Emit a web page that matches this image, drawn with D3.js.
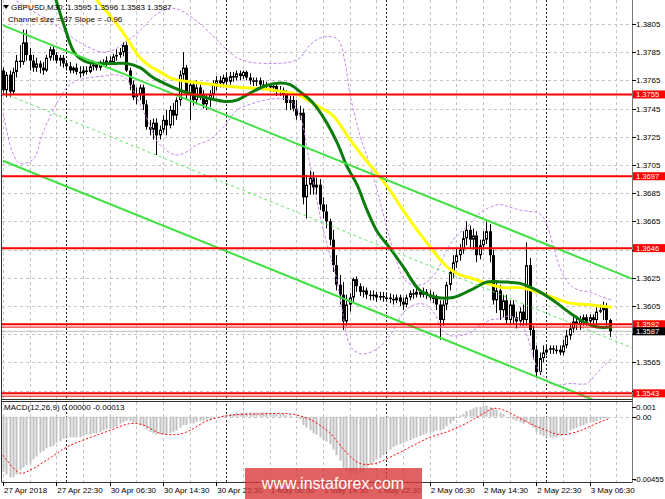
<!DOCTYPE html>
<html><head><meta charset="utf-8">
<script src="https://cdn.jsdelivr.net/npm/d3@7"></script>
<style>body{margin:0;background:#fff}svg{display:block}text{font-family:"Liberation Sans",Arial,sans-serif}</style>
</head><body><svg id="c" width="665" height="499"></svg>
<script>
// ---------------- DATA ----------------
const openP=[1.3772,1.3758,1.3769,1.3757,1.3771,1.3779,1.3778,1.3792,1.3783,1.3779,
1.3774,1.3777,1.3774,1.3772,1.3781,1.3787,1.3783,1.3779,1.3781,1.3777,
1.3775,1.3772,1.3774,1.3771,1.3770,1.3772,1.3771,1.3775,1.3776,1.3774,
1.3777,1.3777,1.3779,1.3778,1.3782,1.3783,1.3785,1.3790,1.3772,1.3762,
1.3753,1.3755,1.3760,1.3748,1.3732,1.3730,1.3735,1.3726,1.3730,1.3737,
1.3733,1.3744,1.3740,1.3751,1.3769,1.3774,1.3755,1.3762,1.3751,1.3760,
1.3755,1.3748,1.3751,1.3755,1.3762,1.3765,1.3763,1.3767,1.3764,1.3768,
1.3767,1.3770,1.3768,1.3771,1.3767,1.3765,1.3764,1.3765,1.3762,1.3761,
1.3762,1.3760,1.3761,1.3757,1.3758,1.3755,1.3749,1.3751,1.3745,1.3740,
1.3742,1.3682,1.3691,1.3696,1.3689,1.3691,1.3677,1.3672,1.3665,1.3652,
1.3634,1.3620,1.3613,1.3594,1.3606,1.3611,1.3624,1.3619,1.3615,1.3616,
1.3613,1.3612,1.3613,1.3611,1.3612,1.3611,1.3611,1.3610,1.3609,1.3611,
1.3608,1.3606,1.3611,1.3614,1.3613,1.3615,1.3613,1.3615,1.3613,1.3611,
1.3611,1.3606,1.3595,1.3606,1.3620,1.3629,1.3636,1.3641,1.3645,1.3653,
1.3659,1.3652,1.3655,1.3641,1.3648,1.3652,1.3658,1.3641,1.3609,1.3616,
1.3602,1.3609,1.3595,1.3606,1.3597,1.3594,1.3601,1.3595,1.3634,1.3588,
1.3574,1.3558,1.3568,1.3572,1.3574,1.3575,1.3574,1.3574,1.3572,1.3577,
1.3584,1.3589,1.3594,1.3592,1.3595,1.3597,1.3594,1.3597,1.3595,1.3601,
1.3602,1.3604,1.3595];
const closeP=[1.3758,1.3769,1.3757,1.3771,1.3779,1.3778,1.3792,1.3783,1.3779,1.3774,
1.3777,1.3774,1.3772,1.3781,1.3787,1.3783,1.3779,1.3781,1.3777,1.3775,
1.3772,1.3774,1.3771,1.3770,1.3772,1.3771,1.3775,1.3776,1.3774,1.3777,
1.3777,1.3779,1.3778,1.3782,1.3783,1.3785,1.3790,1.3772,1.3762,1.3753,
1.3755,1.3760,1.3748,1.3732,1.3730,1.3735,1.3726,1.3730,1.3737,1.3733,
1.3744,1.3740,1.3751,1.3769,1.3774,1.3755,1.3762,1.3751,1.3760,1.3755,
1.3748,1.3751,1.3755,1.3762,1.3765,1.3763,1.3767,1.3764,1.3768,1.3767,
1.3770,1.3768,1.3771,1.3767,1.3765,1.3764,1.3765,1.3762,1.3761,1.3762,
1.3760,1.3761,1.3757,1.3758,1.3755,1.3749,1.3751,1.3745,1.3740,1.3742,
1.3682,1.3691,1.3696,1.3689,1.3691,1.3677,1.3672,1.3665,1.3652,1.3634,
1.3620,1.3613,1.3594,1.3606,1.3611,1.3624,1.3619,1.3615,1.3616,1.3613,
1.3612,1.3613,1.3611,1.3612,1.3611,1.3611,1.3610,1.3609,1.3611,1.3608,
1.3606,1.3611,1.3614,1.3613,1.3615,1.3613,1.3615,1.3613,1.3611,1.3611,
1.3606,1.3595,1.3606,1.3620,1.3629,1.3636,1.3641,1.3645,1.3653,1.3659,
1.3652,1.3655,1.3641,1.3648,1.3652,1.3658,1.3641,1.3609,1.3616,1.3602,
1.3609,1.3595,1.3606,1.3597,1.3594,1.3601,1.3595,1.3634,1.3588,1.3574,
1.3558,1.3568,1.3572,1.3574,1.3575,1.3574,1.3574,1.3572,1.3577,1.3584,
1.3589,1.3594,1.3592,1.3595,1.3597,1.3594,1.3597,1.3595,1.3601,1.3602,
1.3604,1.3595,1.3587];
const highP=[1.3774,1.3771,1.3772,1.3774,1.3783,1.3790,1.3801,1.3801,1.3788,1.3783,
1.3781,1.3779,1.3778,1.3783,1.3789,1.3789,1.3785,1.3783,1.3783,1.3779,
1.3778,1.3775,1.3777,1.3775,1.3775,1.3775,1.3777,1.3779,1.3778,1.3779,
1.3780,1.3782,1.3782,1.3784,1.3787,1.3788,1.3792,1.3792,1.3774,1.3765,
1.3760,1.3762,1.3762,1.3751,1.3737,1.3738,1.3738,1.3733,1.3740,1.3744,
1.3747,1.3749,1.3753,1.3772,1.3785,1.3776,1.3765,1.3764,1.3765,1.3762,
1.3758,1.3755,1.3758,1.3765,1.3768,1.3768,1.3769,1.3770,1.3771,1.3771,
1.3772,1.3772,1.3772,1.3772,1.3770,1.3767,1.3767,1.3767,1.3765,1.3764,
1.3763,1.3763,1.3762,1.3761,1.3760,1.3758,1.3754,1.3754,1.3751,1.3747,
1.3745,1.3698,1.3701,1.3700,1.3696,1.3695,1.3682,1.3677,1.3667,1.3659,
1.3641,1.3627,1.3622,1.3613,1.3614,1.3625,1.3626,1.3621,1.3619,1.3618,
1.3616,1.3616,1.3615,1.3615,1.3615,1.3614,1.3614,1.3613,1.3613,1.3613,
1.3611,1.3613,1.3616,1.3617,1.3618,1.3617,1.3618,1.3617,1.3616,1.3615,
1.3613,1.3609,1.3609,1.3622,1.3632,1.3641,1.3646,1.3649,1.3658,1.3665,
1.3662,1.3660,1.3658,1.3652,1.3658,1.3665,1.3663,1.3645,1.3623,1.3620,
1.3613,1.3613,1.3609,1.3609,1.3601,1.3604,1.3606,1.3650,1.3639,1.3591,
1.3577,1.3572,1.3577,1.3577,1.3577,1.3577,1.3577,1.3577,1.3581,1.3588,
1.3593,1.3597,1.3598,1.3598,1.3599,1.3599,1.3599,1.3599,1.3604,1.3606,
1.3608,1.3607,1.3596];
const lowP=[1.3755,1.3753,1.3753,1.3755,1.3767,1.3774,1.3776,1.3779,1.3772,1.3771,
1.3771,1.3770,1.3769,1.3771,1.3779,1.3779,1.3777,1.3775,1.3774,1.3772,
1.3770,1.3770,1.3769,1.3767,1.3768,1.3769,1.3770,1.3772,1.3772,1.3772,
1.3775,1.3775,1.3776,1.3777,1.3779,1.3781,1.3782,1.3771,1.3758,1.3751,
1.3748,1.3751,1.3744,1.3730,1.3726,1.3723,1.3712,1.3723,1.3728,1.3726,
1.3731,1.3733,1.3737,1.3747,1.3765,1.3751,1.3737,1.3747,1.3748,1.3751,
1.3745,1.3744,1.3746,1.3751,1.3758,1.3760,1.3760,1.3761,1.3762,1.3764,
1.3765,1.3765,1.3766,1.3765,1.3762,1.3761,1.3761,1.3760,1.3758,1.3758,
1.3757,1.3757,1.3754,1.3754,1.3751,1.3744,1.3744,1.3743,1.3737,1.3737,
1.3677,1.3667,1.3684,1.3684,1.3684,1.3673,1.3667,1.3660,1.3648,1.3629,
1.3616,1.3606,1.3588,1.3591,1.3601,1.3608,1.3615,1.3612,1.3611,1.3610,
1.3609,1.3609,1.3608,1.3609,1.3608,1.3609,1.3607,1.3606,1.3607,1.3605,
1.3602,1.3604,1.3609,1.3610,1.3611,1.3611,1.3611,1.3610,1.3609,1.3607,
1.3602,1.3581,1.3591,1.3602,1.3616,1.3625,1.3632,1.3637,1.3642,1.3648,
1.3646,1.3645,1.3636,1.3638,1.3645,1.3649,1.3636,1.3606,1.3600,1.3595,
1.3597,1.3592,1.3592,1.3592,1.3589,1.3591,1.3591,1.3591,1.3584,1.3567,
1.3554,1.3556,1.3565,1.3570,1.3571,1.3571,1.3571,1.3570,1.3570,1.3575,
1.3581,1.3586,1.3588,1.3588,1.3591,1.3591,1.3591,1.3592,1.3591,1.3600,
1.3595,1.3591,1.3583];

// moving averages (bar index, price)
const maGreenIdx=[14.1,15.9,18.6,21.6,25.2,29.1,33.6,37.2,41.1,45,49.2,53.1,57,62.1,66.6,70.2,74.1,78.6,82.5,86.1,89.1,93,96.6,100.2,103.2,106.2,109.2,112.2,116.1,120,125.1,130.2,135,140.1,145.2,150,155.1,160.2,165,170.1,174,178.2,182.7];
const maGreenVal=[1.3836,1.3822,1.3802,1.3784,1.3778,1.3777,1.3777,1.3777,1.3774,1.3767,1.3762,1.3758,1.3755,1.3752,1.3750,1.3751,1.3756,1.3761,1.3763,1.3762,1.3757,1.3749,1.3737,1.3721,1.3704,1.3691,1.3673,1.3658,1.3646,1.3633,1.3616,1.3611,1.3611,1.3616,1.3622,1.3622,1.3621,1.3616,1.3609,1.3600,1.3594,1.3590,1.3590];
const maYellowIdx=[26.1,28.2,32.1,36,39,41.1,44.1,47.1,51,56.1,63,71.1,78,84,88.2,92.1,95.7,99,104.1,108,112.2,116.1,120,124.2,128.1,131.1,134.1,137.1,140.1,145.2,150,155.1,160.2,165,170.1,175.2,179.1,182.7];
const maYellowVal=[1.3833,1.3822,1.3811,1.3799,1.3788,1.3781,1.3775,1.3771,1.3766,1.3764,1.3762,1.3760,1.3759,1.3757,1.3755,1.3750,1.3745,1.3740,1.3723,1.3711,1.3699,1.3687,1.3673,1.3659,1.3647,1.3638,1.3631,1.3627,1.3625,1.3621,1.3618,1.3618,1.3615,1.3611,1.3607,1.3606,1.3605,1.3604];

// bollinger bands (bar index, price)
const bbUpIdx=[0,3.6,8.1,12.6,17.1,21.6,26.1,30,33.6,36.6,39.6,42.6,45.6,48.6,51.6,54.6,57.6,60.6,63.6,66.6,70.2,74.1,78.6,82.2,86.1,89.1,92.1,95.1,98.1,100.5,102.6,104.1,107.1,109.5,111.9,114,116.1,118.2,120,122.7,126.6,130.2,133.2,136.2,140.1,143.1,146.1,149.1,152.1,155.1,158.1,160.5,162.6,165,167.1,170.1,173.1,176.1,179.1,182.7];
const bbUpVal=[1.3826,1.3822,1.3815,1.3809,1.3802,1.3794,1.3788,1.3785,1.3787,1.3792,1.3797,1.3804,1.3811,1.3815,1.3816,1.3813,1.3808,1.3802,1.3795,1.3788,1.3781,1.3778,1.3777,1.3777,1.3778,1.3781,1.3790,1.3795,1.3796,1.3794,1.3778,1.3755,1.3726,1.3709,1.3690,1.3671,1.3652,1.3636,1.3625,1.3620,1.3621,1.3630,1.3645,1.3655,1.3663,1.3671,1.3675,1.3677,1.3675,1.3673,1.3672,1.3671,1.3666,1.3648,1.3632,1.3620,1.3616,1.3615,1.3612,1.3609];
const bbLoIdx=[0,3,5.1,9,12,16.2,19.2,22.2,26.1,30,33.6,36.6,39,41.1,44.1,45.9,48.6,51.9,54.9,57.9,62.1,66.6,70.2,74.1,78.6,82.2,86.1,89.1,92.1,95.1,98.1,99.9,102,104.1,106.2,108,111.9,116.1,120,123.6,126.6,129.6,131.7,134.1,137.1,140.1,143.1,146.1,149.1,152.1,155.1,156.9,158.4,159.9,162.6,165,170.1,175.2,177.6,180,182.7];
const bbLoVal=[1.3742,1.3713,1.3706,1.3709,1.3728,1.3749,1.3760,1.3765,1.3767,1.3768,1.3769,1.3767,1.3758,1.3748,1.3733,1.3723,1.3716,1.3712,1.3714,1.3719,1.3723,1.3733,1.3744,1.3748,1.3751,1.3752,1.3751,1.3740,1.3705,1.3669,1.3641,1.3626,1.3599,1.3577,1.3572,1.3571,1.3574,1.3584,1.3600,1.3606,1.3606,1.3599,1.3588,1.3584,1.3584,1.3586,1.3591,1.3595,1.3596,1.3598,1.3594,1.3586,1.3575,1.3563,1.3554,1.3549,1.3550,1.3550,1.3556,1.3562,1.3568];

// regression channel (bar index, price)
const channelIdx=[0,189];
const channelUpper=[1.3804,1.3624];
const channelMid=[1.3756,1.3575];
const channelLower=[1.3708,1.3527];

// horizontal levels
const levels=[1.3755,1.3697,1.3646,1.3592,1.3543];
const levelsThin=[1.3590,1.3541];
const bidPrice=1.3587;

// MACD histogram per bar, signal (bar index, value)
const macdVal=[-.0040,-.0042,-.0044,-.0044,-.0042,-.0039,-.0037,-.0035,-.0034,-.0031,
-.0029,-.0026,-.0025,-.0023,-.0022,-.0021,-.0019,-.0018,-.0016,-.0015,
-.0015,-.0015,-.0015,-.0015,-.0014,-.0013,-.0013,-.0012,-.0012,-.0011,
-.0010,-.0009,-.0009,-.0008,-.0007,-.0005,-.0004,-.0003,-.0003,-.0004,
-.0005,-.0006,-.0007,-.0009,-.0011,-.0012,-.0013,-.0013,-.0013,-.0013,
-.0012,-.0011,-.0010,-.0008,-.0006,-.0006,-.0005,-.0005,-.0004,-.0003,
-.0003,-.0002,-.0002,-.0001,0,0,.0001,.0001,.0002,.0002,
.0003,.0003,.0003,.0003,.0003,.0003,.0003,.0003,.0003,.0003,
.0003,.0002,.0002,.0002,.0002,.0001,.0001,0,-.0001,-.0002,
-.0006,-.0008,-.0010,-.0012,-.0013,-.0015,-.0017,-.0018,-.0020,-.0024,
-.0028,-.0032,-.0037,-.0039,-.0041,-.0041,-.0042,-.0041,-.0039,-.0037,
-.0035,-.0033,-.0031,-.0030,-.0028,-.0026,-.0024,-.0022,-.0021,-.0020,
-.0019,-.0018,-.0017,-.0016,-.0015,-.0014,-.0013,-.0012,-.0011,-.0011,
-.0010,-.0010,-.0009,-.0007,-.0005,-.0003,-.0001,.0001,.0002,.0004,
.0005,.0006,.0007,.0007,.0008,.0008,.0007,.0006,.0005,.0003,
.0002,0,-.0001,-.0002,-.0003,-.0004,-.0005,-.0004,-.0006,-.0008,
-.0011,-.0013,-.0014,-.0015,-.0015,-.0015,-.0015,-.0014,-.0013,-.0012,
-.0010,-.0009,-.0008,-.0007,-.0006,-.0005,-.0004,-.0004,-.0003,-.0002,
-.0001,-.0001,0];
const sigIdx=[0,5.1,8.1,14.1,19.2,25.2,32.1,38.1,42,47.1,52.2,56.1,61.2,68.1,77.1,86.1,92.1,98.1,102.6,107.1,111.6,118.2,123,128.1,133.2,138,141,144.6,147,150,154.2,158.1,162,167.1,172.2,176.1,180,182];
const sigVal=[-.0028,-.0041,-.0039,-.0030,-.0022,-.0016,-.0010,-.0005,-.0006,-.0012,-.0013,-.0010,-.0003,.0001,.0002,.0002,-.0002,-.0012,-.0025,-.0034,-.0034,-.0027,-.0021,-.0015,-.0011,-.0006,-.0002,.0003,.0006,.0005,0,-.0005,-.0009,-.0013,-.0011,-.0007,-.0003,-.00013];

// axis labels (labels hidden behind level boxes are not listed)
const priceTicks=[1.3545,1.3565,1.3585,1.3605,1.3625,1.3645,1.3665,1.3685,1.3705,1.3725,1.3745,1.3765,1.3785,1.3805];
const priceTickLabels=[1.3565,1.3605,1.3625,1.3665,1.3685,1.3705,1.3725,1.3745,1.3765,1.3785,1.3805];
const dateLabels=["27 Apr 2018","27 Apr 22:30","30 Apr 06:30","30 Apr 14:30","30 Apr 22:30","1 May 06:30","1 May 14:30","1 May 22:30","2 May 06:30","2 May 14:30","2 May 22:30","3 May 06:30"];
const dateIdx=[0,16,32,48,64,80,96,112,128,144,160,176];
const daySepIdx=[19,67,115,163];
const macdTicks=[0.001,0.00,-0.00455];
const macdTickText=["0.001","0.00","-0.00455"];

// ---------------- CHART ----------------
const svg=d3.select('#c');
const PR=632, MB=399, MT=401, AB=482;
const x=d3.scaleLinear().domain([0,189]).range([3,633]);
const y=d3.scaleLinear().domain([1.3539,1.3822]).range([MB,0]);
const ym=d3.scaleLinear().domain([-0.00475,0.0011]).range([AB,401.6]);
const px=v=>Math.round(v)+0.5;

const defs=svg.append('defs');
defs.append('clipPath').attr('id','cm').append('rect').attr('x',2).attr('y',0).attr('width',PR-2).attr('height',MB);
defs.append('clipPath').attr('id','cd').append('rect').attr('x',2).attr('y',MT).attr('width',PR-2).attr('height',AB-MT);

svg.append('rect').attr('width',665).attr('height',499).attr('fill','#fff');

const gm=svg.append('g').attr('clip-path','url(#cm)');
const gd=svg.append('g').attr('clip-path','url(#cd)');

// grid
gm.selectAll('.hg').data(priceTicks).join('line')
 .attr('x1',2).attr('x2',PR).attr('y1',d=>px(y(d))).attr('y2',d=>px(y(d)))
 .attr('stroke','#c4c4c4').attr('stroke-dasharray','3,3');
const vgrid=d3.range(0,190,8);
[gm,gd].forEach(g=>{
 g.selectAll('.vg').data(vgrid).join('line')
  .attr('x1',d=>px(x(d))).attr('x2',d=>px(x(d))).attr('y1',0).attr('y2',AB)
  .attr('stroke','#c4c4c4').attr('stroke-dasharray','3,3');
 g.selectAll('.ds').data(daySepIdx).join('line')
  .attr('x1',d=>px(x(d))).attr('x2',d=>px(x(d))).attr('y1',0).attr('y2',AB)
  .attr('stroke','#222').attr('stroke-dasharray','2,2');
});
gd.append('line').attr('x1',2).attr('x2',PR).attr('y1',px(ym(0))).attr('y2',px(ym(0)))
 .attr('stroke','#c4c4c4').attr('stroke-dasharray','3,3');

// bid line
gm.append('line').attr('x1',2).attr('x2',PR).attr('y1',y(bidPrice)).attr('y2',y(bidPrice)).attr('stroke','#c0c0c0');

// candles
const idx=d3.range(openP.length);
const bull=i=>closeP[i]>=openP[i];
gm.selectAll('.wick').data(idx).join('line')
 .attr('x1',i=>px(x(i))).attr('x2',i=>px(x(i)))
 .attr('y1',i=>y(highP[i])).attr('y2',i=>y(lowP[i])).attr('stroke','#000');
gm.selectAll('.body').data(idx).join('rect')
 .attr('x',i=>px(x(i))-1.5+(bull(i)?0.5:0))
 .attr('width',i=>bull(i)?2:3)
 .attr('y',i=>y(Math.max(openP[i],closeP[i]))+(bull(i)?0.5:0))
 .attr('height',i=>Math.max(bull(i)?0.5:1,Math.abs(y(openP[i])-y(closeP[i]))-(bull(i)?1:0)))
 .attr('fill',i=>bull(i)?'#fff':'#000')
 .attr('stroke',i=>bull(i)?'#000':'none').attr('stroke-width',1);

// bollinger
const ln=(ix,vs,ys,curve)=>d3.line().x((d,k)=>x(ix[k])).y(d=>ys(d)).curve(curve||d3.curveCatmullRom)(vs);
gm.append('path').attr('d',ln(bbUpIdx,bbUpVal,y)).attr('fill','none').attr('stroke','#c486ee').attr('stroke-dasharray','3,2');
gm.append('path').attr('d',ln(bbLoIdx,bbLoVal,y)).attr('fill','none').attr('stroke','#c486ee').attr('stroke-dasharray','3,2');

// moving averages
gm.append('path').attr('d',ln(maYellowIdx,maYellowVal,y)).attr('fill','none').attr('stroke','#ffff00').attr('stroke-width',3);
gm.append('path').attr('d',ln(maGreenIdx,maGreenVal,y)).attr('fill','none').attr('stroke','#0c7d0c').attr('stroke-width',3);

// channel
gm.append('path').attr('d',ln(channelIdx,channelUpper,y,d3.curveLinear)).attr('stroke','#3fe03f').attr('stroke-width',2).attr('fill','none');
gm.append('path').attr('d',ln(channelIdx,channelLower,y,d3.curveLinear)).attr('stroke','#3fe03f').attr('stroke-width',2).attr('fill','none');
gm.append('path').attr('d',ln(channelIdx,channelMid,y,d3.curveLinear)).attr('stroke','#5ee85e').attr('stroke-width',1).attr('stroke-dasharray','3,3').attr('fill','none');

// horizontal levels
gm.selectAll('.lv').data(levels).join('line')
 .attr('x1',2).attr('x2',PR).attr('y1',d=>y(d)).attr('y2',d=>y(d)).attr('stroke','#ff0000').attr('stroke-width',2);
gm.selectAll('.lvt').data(levelsThin).join('line')
 .attr('x1',2).attr('x2',PR).attr('y1',d=>y(d)).attr('y2',d=>y(d)).attr('stroke','#ff0000').attr('stroke-width',1);

// MACD
gd.selectAll('.mb').data(idx).join('rect')
 .attr('x',i=>Math.round(x(i))-0.5).attr('width',2)
 .attr('y',i=>Math.min(ym(0),ym(macdVal[i]))).attr('height',i=>Math.abs(ym(macdVal[i])-ym(0)))
 .attr('fill','#c0c0c0');
gd.append('path').attr('d',ln(sigIdx,sigVal,ym)).attr('fill','none').attr('stroke','#ff0000').attr('stroke-dasharray','2,2');

// frames
const fr=svg.append('g').attr('stroke','#333').attr('fill','none');
fr.append('line').attr('x1',1.5).attr('x2',1.5).attr('y1',0).attr('y2',AB);
fr.append('line').attr('x1',PR+0.5).attr('x2',PR+0.5).attr('y1',0).attr('y2',AB).attr('stroke','#777');
fr.append('line').attr('x1',1.5).attr('x2',PR+0.5).attr('y1',MB+0.5).attr('y2',MB+0.5);
fr.append('line').attr('x1',1.5).attr('x2',PR+0.5).attr('y1',MT+0.5).attr('y2',MT+0.5);
fr.append('line').attr('x1',1.5).attr('x2',PR+0.5).attr('y1',AB+0.5).attr('y2',AB+0.5);

// right axis
const ra=svg.append('g');
ra.selectAll('.tk').data(priceTicks).join('line')
 .attr('x1',PR).attr('x2',PR+4).attr('y1',d=>px(y(d))).attr('y2',d=>px(y(d))).attr('stroke','#000');
ra.selectAll('.tl').data(priceTickLabels).join('text')
 .attr('x',636).attr('y',d=>y(d)+3).attr('font-size',8).attr('fill','#000').text(d=>d.toFixed(4));
const mty=(d,k)=>k==0?407:ym(d);
ra.selectAll('.mtk').data(macdTicks).join('line')
 .attr('x1',PR).attr('x2',PR+4).attr('y1',(d,k)=>px(mty(d,k))).attr('y2',(d,k)=>px(mty(d,k))).attr('stroke','#000');
ra.selectAll('.mtl').data(macdTicks).join('text')
 .attr('x',(d,k)=>k==2?634:636).attr('y',(d,k)=>mty(d,k)+3).attr('font-size',(d,k)=>k==2?7.5:8).attr('fill','#000').text((d,k)=>macdTickText[k]);
// level labels
const lvAll=levels.map(v=>({v,bg:'#ff0000'})).concat([{v:bidPrice,bg:'#000'}]);
lvAll.forEach(o=>{
 const yy=y(o.v);
 ra.append('rect').attr('x',PR+1).attr('y',yy-4).attr('width',665-PR-1).attr('height',8).attr('fill',o.bg);
 ra.append('text').attr('x',636).attr('y',yy+2.7).attr('font-size',7.6).attr('fill','#fff').text(o.v.toFixed(4));
});

// bottom axis
const ba=svg.append('g');
ba.selectAll('.bt').data(dateIdx).join('line')
 .attr('x1',i=>px(x(i))).attr('x2',i=>px(x(i))).attr('y1',AB).attr('y2',AB+4).attr('stroke','#000');
ba.selectAll('.bl').data(dateIdx).join('text')
 .attr('x',i=>x(i)+1).attr('y',493).attr('font-size',8).attr('fill','#000').text((d,k)=>dateLabels[k]);

// headers
svg.append('path').attr('d','M3,5L9,5L6,9Z').attr('fill','#000');
svg.append('text').attr('x',11).attr('y',10).attr('font-size',8).attr('fill','#000').text('GBPUSD,M30: 1.3595 1.3596 1.3583 1.3587');
svg.append('text').attr('x',8).attr('y',22).attr('font-size',8).attr('fill','#000').text('Channel size = 97 Slope = -0.96');
svg.append('text').attr('x',4).attr('y',410).attr('font-size',8).attr('fill','#000').text('MACD(12,26,9) 0.00000 -0.00013');

// watermark
svg.append('rect').attr('x',245).attr('y',468).attr('width',177).attr('height',31).attr('fill','#d83a3a').attr('opacity',0.8);
svg.append('text').attr('x',333).attr('y',489).attr('text-anchor','middle').attr('font-size',16).attr('fill','#fff').text('www.instaforex.com');
</script>
</body></html>
